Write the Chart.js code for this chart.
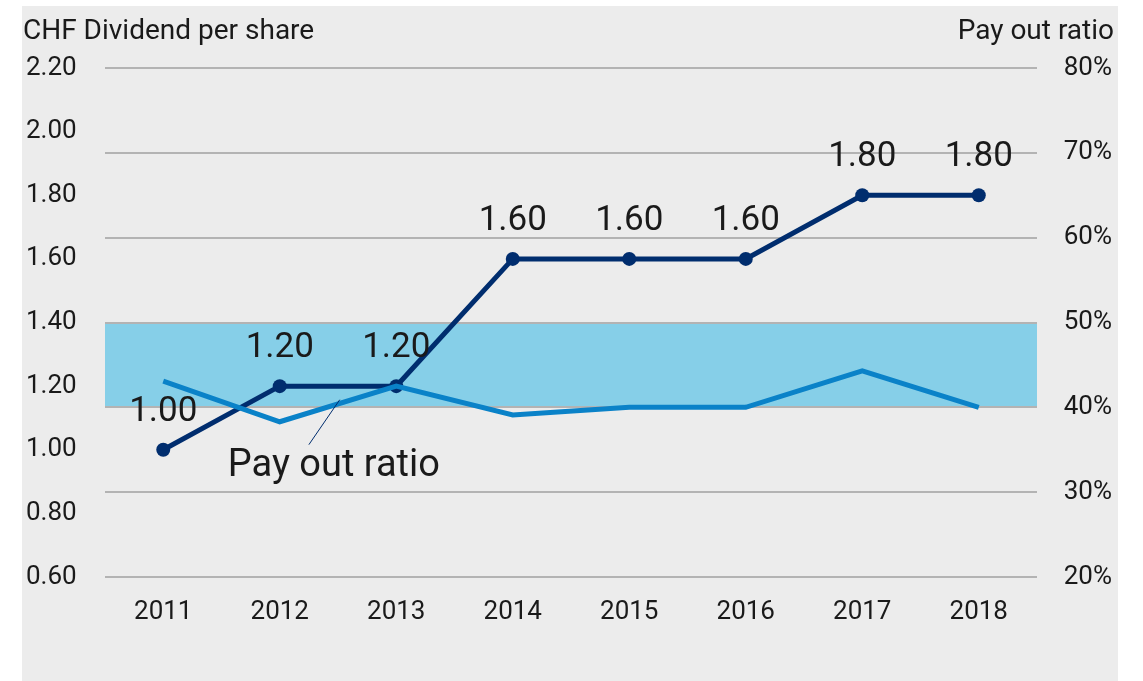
<!DOCTYPE html>
<html>
<head>
<meta charset="utf-8">
<script src="https://cdn.jsdelivr.net/npm/chart.js@4/dist/chart.umd.min.js"></script>
<style>
html,body{margin:0;padding:0;background:#fff;}
#wrap{width:1143px;height:681px;position:relative;}
</style>
</head>
<body>
<div id="wrap"><canvas id="c" width="1143" height="681"></canvas></div>
<script>
const categories = ['2011','2012','2013','2014','2015','2016','2017','2018'];
const dividendPerShare = [1.00, 1.20, 1.20, 1.60, 1.60, 1.60, 1.80, 1.80];
const payoutRatio = [43.1, 38.3, 42.5, 39.1, 40.0, 40.0, 44.3, 40.0];
const dividendLabels = ['1.00','1.20','1.20','1.60','1.60','1.60','1.80','1.80'];
const leftTitle = 'CHF Dividend per share';
const rightTitle = 'Pay out ratio';
const annotationText = 'Pay out ratio';
const targetBand = [40, 50];

const FONT = 'Roboto, "DejaVu Sans", sans-serif';
const TXT = '#1a1a1a';
const NAVY = '#002d6e';
const BLUE = '#0a82c8';

const decor = {
  id: 'decor',
  beforeDraw(chart) {
    const ctx = chart.ctx, a = chart.chartArea, yR = chart.scales.yR;
    ctx.save();
    ctx.fillStyle = '#ffffff';
    ctx.fillRect(0, 0, chart.width, chart.height);
    ctx.fillStyle = '#ececec';
    ctx.fillRect(22, 6, 1096, 675);
    const yTop = yR.getPixelForValue(targetBand[1]);
    const yBot = yR.getPixelForValue(targetBand[0]);
    ctx.fillStyle = '#86cfe8';
    ctx.fillRect(a.left, yTop, a.right - a.left, yBot - yTop);
    ctx.restore();
  },
  afterDraw(chart) {
    const ctx = chart.ctx, x = chart.scales.x, yR = chart.scales.yR;
    ctx.save();
    ctx.fillStyle = TXT;
    ctx.font = '28px ' + FONT;
    ctx.textBaseline = 'middle';
    ctx.textAlign = 'left';
    ctx.fillText(leftTitle, 23, 32);
    ctx.textAlign = 'right';
    ctx.fillText(rightTitle, 1114, 32);
    // data labels
    const meta = chart.getDatasetMeta(1);
    ctx.font = '35px ' + FONT;
    ctx.textAlign = 'center';
    meta.data.forEach((p, i) => {
      ctx.fillText(dividendLabels[i], p.x, p.y - 38);
    });
    // annotation
    ctx.font = '38px ' + FONT;
    ctx.textAlign = 'left';
    ctx.fillText(annotationText, x.getPixelForValue(1) - 52, yR.getPixelForValue(33.0));
    ctx.strokeStyle = NAVY;
    ctx.lineWidth = 1;
    ctx.beginPath();
    ctx.moveTo(x.getPixelForValue(1.25), yR.getPixelForValue(35.6));
    ctx.lineTo(x.getPixelForValue(1.515), yR.getPixelForValue(40.9));
    ctx.stroke();
    ctx.restore();
  }
};

new Chart(document.getElementById('c'), {
  type: 'line',
  data: {
    labels: categories,
    datasets: [
      {
        label: 'Pay out ratio',
        data: payoutRatio,
        yAxisID: 'yR',
        borderColor: BLUE,
        borderWidth: 5,
        pointRadius: 0,
        tension: 0,
        fill: false
      },
      {
        label: 'Dividend per share',
        data: dividendPerShare,
        yAxisID: 'yL',
        borderColor: NAVY,
        backgroundColor: NAVY,
        borderWidth: 5,
        pointRadius: 7,
        pointHoverRadius: 7,
        pointBorderWidth: 0,
        tension: 0,
        fill: false
      }
    ]
  },
  options: {
    responsive: false,
    animation: false,
    devicePixelRatio: 1,
    layout: { padding: { left: 26, right: 31, top: 68, bottom: 40 } },
    plugins: { legend: { display: false }, tooltip: { enabled: false } },
    scales: {
      x: {
        offset: true,
        grid: { display: false },
        border: { display: false },
        ticks: { color: TXT, font: { family: FONT, size: 26 }, padding: 12, maxRotation: 0 },
        afterFit(s) { s.height = 64; }
      },
      yL: {
        position: 'left',
        min: 0.6, max: 2.2,
        grid: { display: false },
        border: { display: false },
        ticks: {
          stepSize: 0.2,
          crossAlign: 'far',
          color: TXT,
          font: { family: FONT, size: 26 },
          callback: v => Number(v).toFixed(2)
        },
        afterFit(s) { s.width = 79; }
      },
      yR: {
        position: 'right',
        min: 20, max: 80,
        grid: { color: '#b3b3b3', lineWidth: 2, drawTicks: false },
        border: { display: false },
        ticks: {
          stepSize: 10,
          crossAlign: 'far',
          color: TXT,
          font: { family: FONT, size: 26 },
          callback: v => v + '%'
        },
        afterFit(s) { s.width = 75; }
      }
    }
  },
  plugins: [decor]
});
</script>
</body>
</html>
